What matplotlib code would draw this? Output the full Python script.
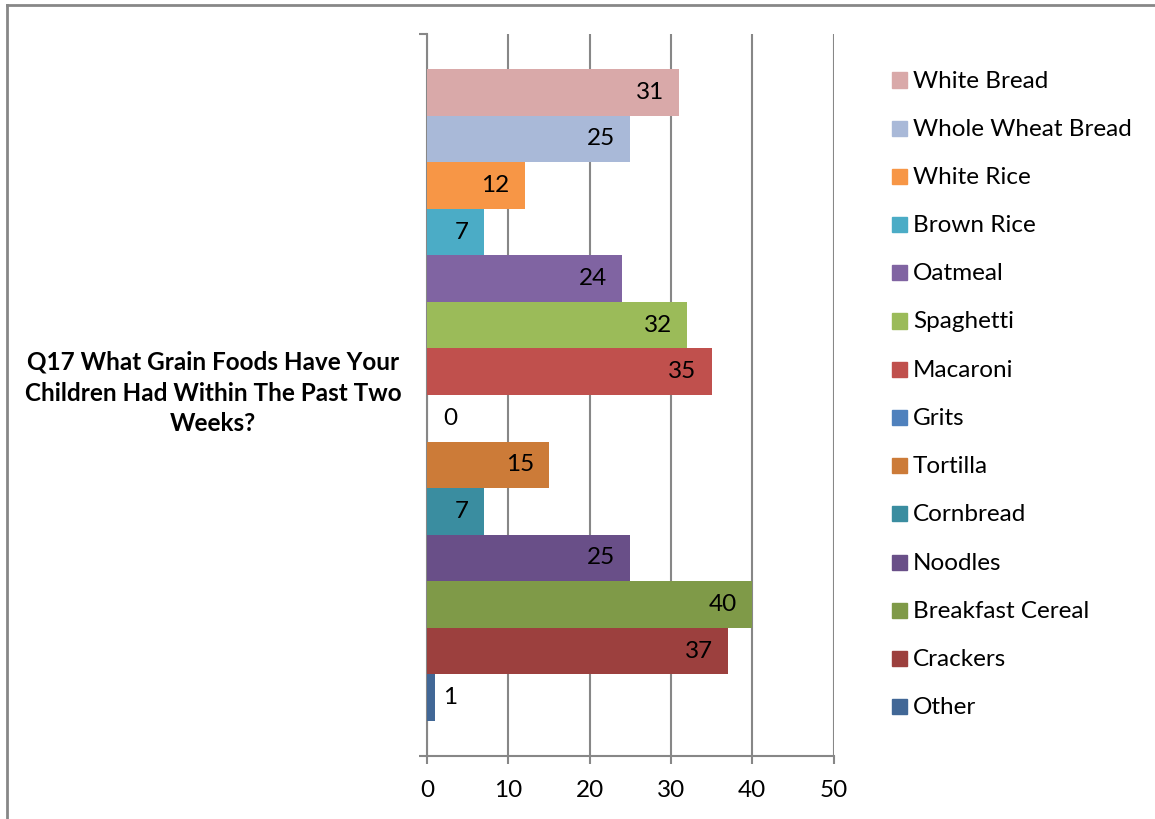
import matplotlib
matplotlib.use("Agg")
import matplotlib.pyplot as plt
from matplotlib.lines import Line2D
from matplotlib.patches import Rectangle

# Survey answers (number of respondents) per grain food
categories = ["White Bread", "Whole Wheat Bread", "White Rice", "Brown Rice",
              "Oatmeal", "Spaghetti", "Macaroni", "Grits", "Tortilla",
              "Cornbread", "Noodles", "Breakfast Cereal", "Crackers", "Other"]
values = [31, 25, 12, 7, 24, 32, 35, 0, 15, 7, 25, 40, 37, 1]
colors = ["#D9A9A9", "#A9B9D8", "#F79646", "#4BACC6", "#8064A2", "#9BBB59",
          "#C0504D", "#4F81BD", "#CC7B38", "#3A8DA0", "#694F88", "#7F9A48",
          "#9C403E", "#416796"]
question = "Q17 What Grain Foods Have Your\nChildren Had Within The Past Two\nWeeks?"
xticks = [0, 10, 20, 30, 40, 50]

W, H = 1155, 819
DPI = 100
FS = 17.5
plt.rcParams["font.family"] = ["Lato", "DejaVu Sans"]

fig = plt.figure(figsize=(W / DPI, H / DPI), dpi=DPI)
fig.patch.set_facecolor("white")

# plot area in pixel coordinates
left_px, right_px, top_px, bottom_px = 427, 833.5, 34, 756
ax = fig.add_axes([left_px / W, 1 - bottom_px / H,
                   (right_px - left_px) / W, (bottom_px - top_px) / H])

gap = 0.755
n = len(values)
ypos = list(range(n))
bars = ax.barh(ypos, values, height=1.0, color=colors, zorder=3)

ax.set_xlim(0, 50)
ax.set_ylim(n - 0.5 + gap, -0.5 - gap)

axis_gray = "#878787"
ax.set_xticks(xticks)
ax.set_xticklabels([str(t) for t in xticks], fontsize=FS)
ax.set_yticks([-0.5 - gap, n - 0.5 + gap])
ax.set_yticklabels([])
ax.tick_params(axis="x", length=6, width=1.5, color=axis_gray, pad=11,
               direction="out")
ax.tick_params(axis="y", length=6, width=1.5, color=axis_gray,
               direction="out")
ax.grid(axis="x", color=axis_gray, linewidth=1.5, zorder=0)
for side in ("top", "right"):
    ax.spines[side].set_visible(False)
for side in ("left", "bottom"):
    ax.spines[side].set_color(axis_gray)
    ax.spines[side].set_linewidth(1.5)

# value labels: inside the bar end, outside for very short bars
px_per_unit = (right_px - left_px) / 50
for y, v in zip(ypos, values):
    if v * px_per_unit > 40:
        ax.annotate(str(v), (v, y), xytext=(-15, 0), textcoords="offset pixels",
                    ha="right", va="center", fontsize=FS, zorder=4)
    else:
        ax.annotate(str(v), (v, y), xytext=(23 - v * px_per_unit, 0),
                    textcoords="offset pixels",
                    ha="center", va="center", fontsize=FS, zorder=4)

# category title on the left
fig.text(213 / W, 1 - 393 / H, question, ha="center", va="center",
         fontsize=FS, fontweight="bold", linespacing=1.40)

# legend drawn as swatches and labels
leg_y0, leg_dy = 80, 48.2
for i, (name, c) in enumerate(zip(categories, colors)):
    yc = leg_y0 + i * leg_dy
    fig.patches.append(Rectangle((892 / W, 1 - (yc + 7.5) / H), 15 / W, 15 / H,
                                 transform=fig.transFigure, color=c,
                                 figure=fig))
    fig.text(913 / W, 1 - (yc + 1) / H, name, ha="left", va="center",
             fontsize=FS)

# chart frame
fig.lines.append(Line2D([7 / W, 7 / W], [0, 1 - 5 / H], color=axis_gray,
                        linewidth=2, transform=fig.transFigure, figure=fig))
fig.lines.append(Line2D([7 / W, 1], [1 - 5 / H, 1 - 5 / H], color=axis_gray,
                        linewidth=2, transform=fig.transFigure, figure=fig))

fig.savefig("out.png", dpi=DPI)
